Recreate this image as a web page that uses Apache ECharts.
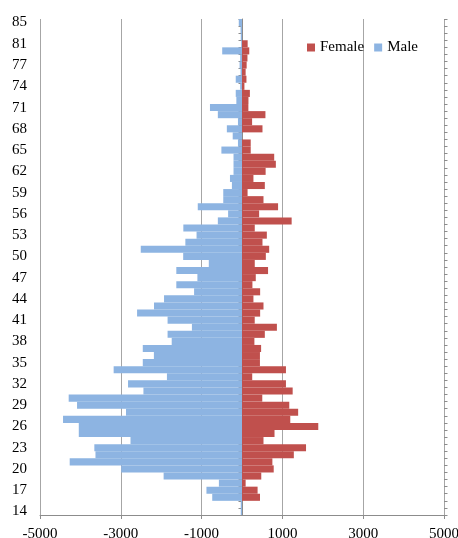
<!DOCTYPE html>
<html>
<head>
<meta charset="utf-8">
<script src="https://cdn.jsdelivr.net/npm/echarts@6/dist/echarts.min.js"></script>
<style>
  html, body { margin: 0; padding: 0; background: #fff; }
  #pyramid { width: 458px; height: 538px; }
</style>
</head>
<body>
<div id="pyramid"></div>
<script>
// ages on the category axis (bottom to top), two ages are missing in the 78-84 range
var ages = [14, 15, 16, 17, 18, 19, 20, 21, 22, 23, 24, 25, 26, 27, 28, 29, 30, 31, 32, 33,
    34, 35, 36, 37, 38, 39, 40, 41, 42, 43, 44, 45, 46, 47, 48, 49, 50, 51, 52, 53,
    54, 55, 56, 57, 58, 59, 60, 61, 62, 63, 64, 65, 66, 67, 68, 69, 70, 71, 72, 73,
    74, 75, 76, 77, 78, 79, 81, 82, 83, 85];

// male counts are drawn to the left, so they are negative
var male = [-30, -30, -737, -880, -572, -1940, -2990, -4265, -3627, -3655,
    -2760, -4040, -4040, -4430, -2871, -4083, -4290, -2440, -2821, -1858,
    -3177, -2456, -2181, -2456, -1740, -1842, -1240, -1842, -2597, -2178,
    -1930, -1186, -1626, -1104, -1626, -822, -1456, -2506, -1402, -1125,
    -1452, -598, -344, -1095, -464, -464, -250, -298, -210, -210,
    -210, -510, -100, -230, -375, -100, -598, -793, -140, -155,
    -45, -155, -35, -60, -45, -490, -20, -30, -35, -80];

var female = [0, 0, 445, 386, 90, 477, 785, 752, 1283, 1585,
    532, 805, 1888, 1195, 1390, 1170, 502, 1254, 1088, 253,
    1088, 444, 444, 473, 307, 565, 864, 315, 449, 532,
    283, 449, 258, 341, 645, 316, 590, 673, 507, 615,
    316, 1229, 424, 893, 532, 138, 565, 283, 585, 838,
    797, 216, 216, 0, 507, 250, 580, 158, 160, 195,
    60, 110, 90, 115, 135, 180, 140, 0, 0, 0];

var xMin = -5000, xMax = 5000, xStep = 2000;

var font = 'Liberation Serif';
var gray = '#8c8c8c';

var myChart = echarts.init(document.getElementById('pyramid'));

var option = {
    animation: false,
    legend: {
        data: ['Female', 'Male'],
        left: 302,
        top: 35,
        itemWidth: 8,
        itemHeight: 8,
        itemGap: 10,
        icon: 'rect',
        textStyle: { fontFamily: font, fontSize: 15, color: '#000' }
    },
    grid: {
        left: 40,
        right: 14,
        top: 19,
        bottom: 23,
        outerBoundsMode: 'none'
    },
    xAxis: {
        type: 'value',
        min: xMin,
        max: xMax,
        interval: xStep,
        axisLine: { show: true, onZero: false, lineStyle: { color: gray } },
        axisTick: { show: true, length: 4, lineStyle: { color: gray } },
        splitLine: { show: true, lineStyle: { color: '#a6a6a6', width: 1 } },
        axisLabel: {
            margin: 12,
            fontFamily: font,
            fontSize: 15,
            color: '#000',
            showMinLabel: true,
            showMaxLabel: true,
            formatter: function (v) { return String(v); }
        }
    },
    yAxis: [
        {
            // labels at the left edge
            type: 'category',
            data: ages,
            position: 'left',
            axisLine: { show: false, onZero: false },
            axisTick: { show: false },
            axisLabel: {
                interval: 2,
                margin: 13,
                padding: [5, 0, 0, 0],
                fontFamily: font,
                fontSize: 15,
                color: '#000'
            }
        },
        {
            // axis line at zero, ticks to the left
            type: 'category',
            data: ages,
            position: 'left',
            axisLine: { show: true, onZero: true, lineStyle: { color: gray } },
            axisTick: { show: true, interval: 0, length: 3.5, lineStyle: { color: gray } },
            axisLabel: { show: false }
        },
        {
            // ticks to the right of the zero line
            type: 'category',
            data: ages,
            position: 'right',
            axisLine: { show: false, onZero: true },
            axisTick: { show: true, interval: 0, length: 3.5, lineStyle: { color: gray } },
            axisLabel: { show: false }
        }
    ],
    series: [
        {
            name: 'Female',
            type: 'bar',
            stack: 'pop',
            barCategoryGap: '0%',
            itemStyle: { color: '#c0504d' },
            data: female
        },
        {
            name: 'Male',
            type: 'bar',
            stack: 'pop',
            barCategoryGap: '0%',
            itemStyle: { color: '#8db4e2' },
            data: male
        }
    ]
};

myChart.setOption(option);
</script>
</body>
</html>
